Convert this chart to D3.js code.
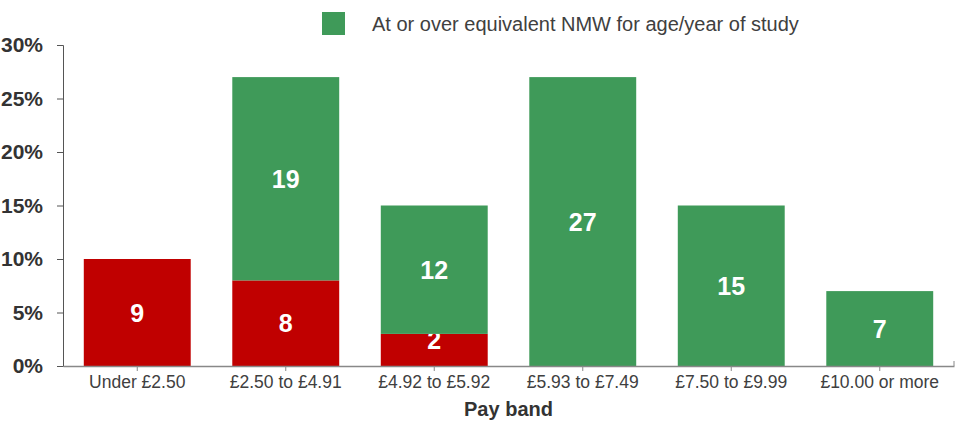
<!DOCTYPE html>
<html>
<head>
<meta charset="utf-8">
<script src="https://cdn.jsdelivr.net/npm/d3@7"></script>
<style>
  body { margin: 0; background: #fff; }
  text { font-family: "Liberation Sans", Arial, sans-serif; }
</style>
</head>
<body>
<svg id="chart" width="959" height="424"></svg>
<script>
// pay bands
const categories = ["Under £2.50", "£2.50 to £4.91", "£4.92 to £5.92", "£5.93 to £7.49", "£7.50 to £9.99", "£10.00 or more"];
// bar heights (%) as drawn
const belowValues = [10, 8, 3, 0, 0, 0];
const overValues = [0, 19, 12, 27, 15, 7];
// labels printed on the bars
const belowLabels = ["9", "8", "2", "", "", ""];
const overLabels = ["", "19", "12", "27", "15", "7"];
const yTicks = [0, 5, 10, 15, 20, 25, 30];
const legendLabel = "At or over equivalent NMW for age/year of study";
const xTitle = "Pay band";

const red = "#c00000";
const green = "#3f9a59";

const svg = d3.select("#chart");
const marginLeft = 63, plotRight = 954, marginTop = 45, plotBottom = 366;

const x = d3.scaleBand().domain(categories).range([marginLeft, plotRight]).paddingInner(0.28).paddingOuter(0.14);
const y = d3.scaleLinear().domain([0, 30]).range([plotBottom, marginTop]);

const rows = categories.map((c, i) => ({
  cat: c,
  below: belowValues[i],
  over: overValues[i],
  belowLabel: belowLabels[i],
  overLabel: overLabels[i],
}));

// bars
const g = svg.append("g");
rows.forEach((d) => {
  const segs = [
    { y0: 0, y1: d.below, color: red, label: d.belowLabel },
    { y0: d.below, y1: d.below + d.over, color: green, label: d.overLabel },
  ];
  segs.forEach((s) => {
    if (s.y1 - s.y0 <= 0) return;
    g.append("rect")
      .attr("x", x(d.cat))
      .attr("y", y(s.y1))
      .attr("width", x.bandwidth())
      .attr("height", y(s.y0) - y(s.y1))
      .attr("fill", s.color);
    if (s.label) {
      const cy = Math.min((y(s.y0) + y(s.y1)) / 2, y(s.y0) - 26);
      g.append("text")
        .attr("x", x(d.cat) + x.bandwidth() / 2)
        .attr("y", cy)
        .attr("dy", "0.36em")
        .attr("text-anchor", "middle")
        .attr("fill", "#fff")
        .attr("font-weight", "bold")
        .attr("font-size", 25)
        .text(s.label);
    }
  });
});

// y axis
const yAxis = svg.append("g")
  .attr("transform", `translate(${marginLeft},0)`)
  .call(d3.axisLeft(y).tickValues(yTicks).tickFormat((d) => d + "%").tickSize(6).tickPadding(14));
yAxis.selectAll("path, line").attr("stroke", "#555");
yAxis.selectAll("text")
  .attr("font-size", 21)
  .attr("font-weight", "bold")
  .attr("fill", "#333")
  .style("font-family", "Liberation Sans, Arial, sans-serif");

// x axis
const xAxis = svg.append("g")
  .attr("transform", `translate(0,${plotBottom})`)
  .call(d3.axisBottom(x).tickSize(5).tickSizeOuter(0).tickPadding(5));
xAxis.select("path").attr("stroke", "#888").attr("stroke-width", 1.5);
xAxis.selectAll("line").attr("stroke", "#888");
xAxis.append("line")
  .attr("x1", plotRight).attr("x2", plotRight)
  .attr("y1", 0).attr("y2", -5)
  .attr("stroke", "#888");
xAxis.selectAll("text")
  .attr("font-size", 17.5)
  .attr("fill", "#404040")
  .style("font-family", "Liberation Sans, Arial, sans-serif");

svg.append("text")
  .attr("x", (marginLeft + plotRight) / 2)
  .attr("y", 416)
  .attr("text-anchor", "middle")
  .attr("font-size", 20)
  .attr("font-weight", "bold")
  .attr("fill", "#333")
  .text(xTitle);

// legend
svg.append("rect")
  .attr("x", 322).attr("y", 12)
  .attr("width", 23).attr("height", 23)
  .attr("fill", green);
svg.append("text")
  .attr("x", 372).attr("y", 31)
  .attr("font-size", 20)
  .attr("fill", "#404040")
  .text(legendLabel);
</script>
</body>
</html>
